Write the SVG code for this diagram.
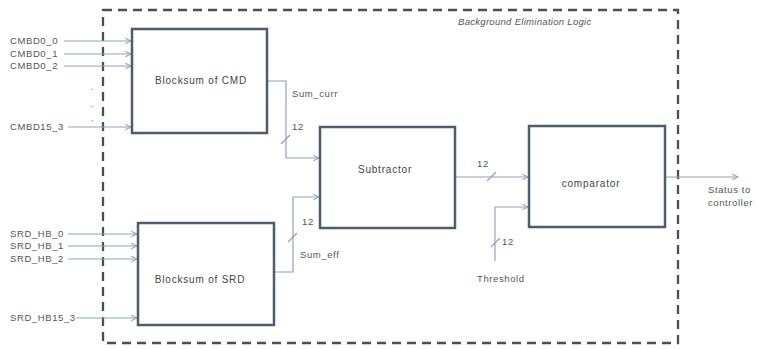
<svg xmlns="http://www.w3.org/2000/svg" width="757" height="349" viewBox="0 0 757 349">
<style>
.blk{fill:#fff;stroke:#4d5d6e;stroke-width:2.5}
.ln{fill:none;stroke:#8fa3b8;stroke-width:1.2}
.t{font-family:"Liberation Sans",Arial,sans-serif;font-size:9.5px;fill:#555;letter-spacing:0.6px}
.bt{font-family:"Liberation Sans",Arial,sans-serif;font-size:10px;fill:#444;letter-spacing:0.8px}
.frame{fill:none;stroke:#4a4f55;stroke-width:2.3;stroke-dasharray:9 6}
</style>
<defs>
<marker id="ar" viewBox="0 0 10 10" refX="9" refY="5" markerWidth="7" markerHeight="7" markerUnits="userSpaceOnUse" orient="auto">
<path d="M1,1 L9,5 L1,9" fill="none" stroke="#8fa3b8" stroke-width="1.5"/>
</marker>
</defs>
<rect width="757" height="349" fill="#fff"/>
<rect class="frame" x="103" y="10" width="575" height="333"/>
<text x="458" y="25" class="t" font-style="italic" style="letter-spacing:0.3px">Background Elimination Logic</text>

<g id="connectors">
<line class="ln" x1="64" y1="41" x2="131" y2="41" marker-end="url(#ar)"/>
<line class="ln" x1="64" y1="54" x2="131" y2="54" marker-end="url(#ar)"/>
<line class="ln" x1="64" y1="66" x2="131" y2="66" marker-end="url(#ar)"/>
<line class="ln" x1="68" y1="127" x2="131" y2="127" marker-end="url(#ar)"/>
<line class="ln" x1="68" y1="234" x2="137" y2="234" marker-end="url(#ar)"/>
<line class="ln" x1="68" y1="246" x2="137" y2="246" marker-end="url(#ar)"/>
<line class="ln" x1="68" y1="259" x2="137" y2="259" marker-end="url(#ar)"/>
<line class="ln" x1="76" y1="318" x2="137" y2="318" marker-end="url(#ar)"/>
<polyline class="ln" points="267,81 286,81 286,158 319,158" marker-end="url(#ar)"/>
<line class="ln" x1="281" y1="144" x2="290" y2="135"/>
<polyline class="ln" points="274,272 293,272 293,197 319,197" marker-end="url(#ar)"/>
<line class="ln" x1="288" y1="242" x2="297" y2="233"/>
<line class="ln" x1="455" y1="177" x2="528" y2="177" marker-end="url(#ar)"/>
<line class="ln" x1="487" y1="181" x2="496" y2="172"/>
<polyline class="ln" points="495,261 495,207 528,207" marker-end="url(#ar)"/>
<line class="ln" x1="491" y1="247" x2="500" y2="238"/>
<line class="ln" x1="665" y1="177" x2="738" y2="177" marker-end="url(#ar)"/>
</g>

<g id="inputs" class="t">
<text x="10" y="44">CMBD0_0</text>
<text x="10" y="57">CMBD0_1</text>
<text x="10" y="69">CMBD0_2</text>
<text x="91" y="90">.</text>
<text x="91" y="107">.</text>
<text x="91" y="121">.</text>
<text x="10" y="130">CMBD15_3</text>
<text x="10" y="237">SRD_HB_0</text>
<text x="10" y="249">SRD_HB_1</text>
<text x="10" y="262">SRD_HB_2</text>
<text x="10" y="321">SRD_HB15_3</text>
</g>

<g id="cmd">
<rect class="blk" x="132" y="29" width="135" height="104"/>
<text class="bt" x="201" y="84" text-anchor="middle">Blocksum of CMD</text>
</g>
<g id="srd">
<rect class="blk" x="138" y="223" width="136" height="102"/>
<text class="bt" x="200" y="283" text-anchor="middle">Blocksum of SRD</text>
</g>
<g id="subtractor">
<rect class="blk" x="320" y="127" width="135" height="101"/>
<text class="bt" x="385" y="173" text-anchor="middle">Subtractor</text>
</g>
<g id="comparator">
<rect class="blk" x="529" y="126" width="136" height="101"/>
<text class="bt" x="591" y="187" text-anchor="middle">comparator</text>
</g>

<g id="labels" class="t">
<text x="292" y="97">Sum_curr</text>
<text x="292" y="130">12</text>
<text x="302" y="225">12</text>
<text x="300" y="258">Sum_eff</text>
<text x="477" y="167">12</text>
<text x="502" y="245">12</text>
<text x="477" y="282">Threshold</text>
<text x="708" y="193">Status to</text>
<text x="708" y="206">controller</text>
</g>
</svg>
